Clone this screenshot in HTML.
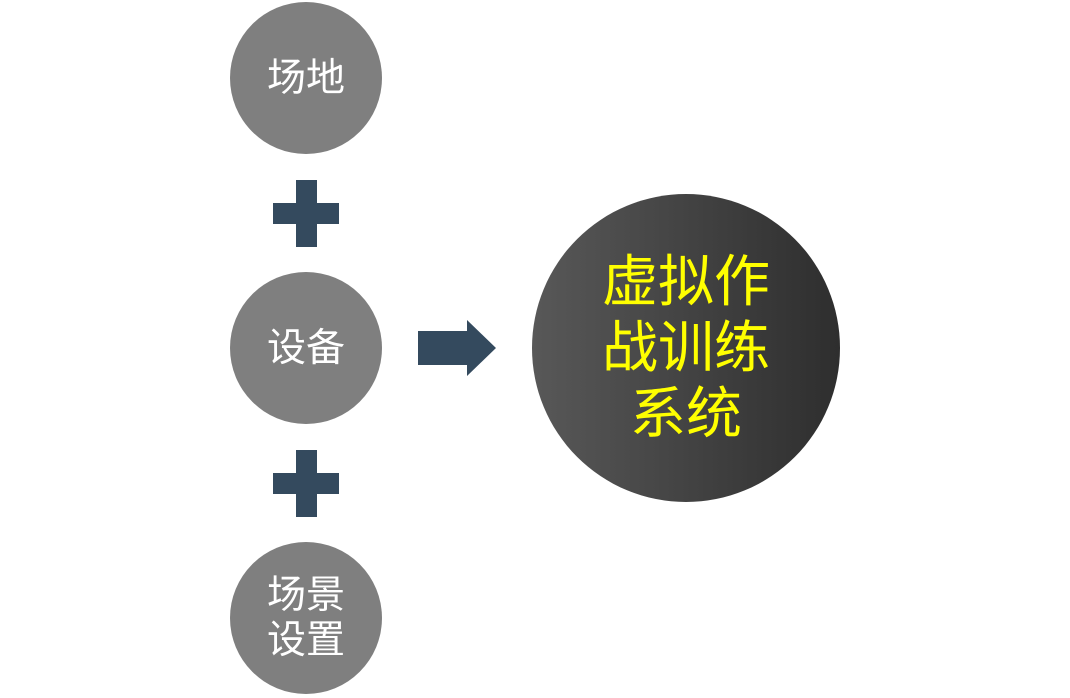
<!DOCTYPE html>
<html><head><meta charset="utf-8"><style>
body{margin:0;width:1070px;height:698px;background:#fff;overflow:hidden;position:relative;font-family:"Liberation Sans","Noto Sans CJK SC",sans-serif}
.c{position:absolute;width:152px;height:152px;border-radius:50%;background:#7f7f7f;color:#fff;font-size:39px;font-weight:400;display:flex;align-items:center;justify-content:center;text-align:center;line-height:45px}
.p{position:absolute;background:#344a5e}
.big{position:absolute;left:532px;top:194px;width:308px;height:308px;border-radius:50%;background:linear-gradient(to right,#585858,#2e2e2e);color:#ffff00;font-size:56px;font-weight:400;line-height:66px;display:flex;align-items:center;justify-content:center;text-align:center}
</style></head><body>
<div class="c" style="left:230px;top:2px">场地</div>
<div class="c" style="left:230px;top:272px">设备</div>
<div class="c" style="left:230px;top:542px">场景<br>设置</div>
<div class="p" style="left:273px;top:203px;width:66px;height:21px"></div>
<div class="p" style="left:296px;top:180px;width:21px;height:67px"></div>
<div class="p" style="left:273px;top:473px;width:66px;height:21px"></div>
<div class="p" style="left:296px;top:450px;width:21px;height:67px"></div>
<svg style="position:absolute;left:0;top:0" width="1070" height="698"><polygon points="418,331 467,331 467,320 496,348 467,376 467,365 418,365" fill="#344a5e"/></svg>
<div class="big">虚拟作<br>战训练<br>系统</div>
</body></html>
